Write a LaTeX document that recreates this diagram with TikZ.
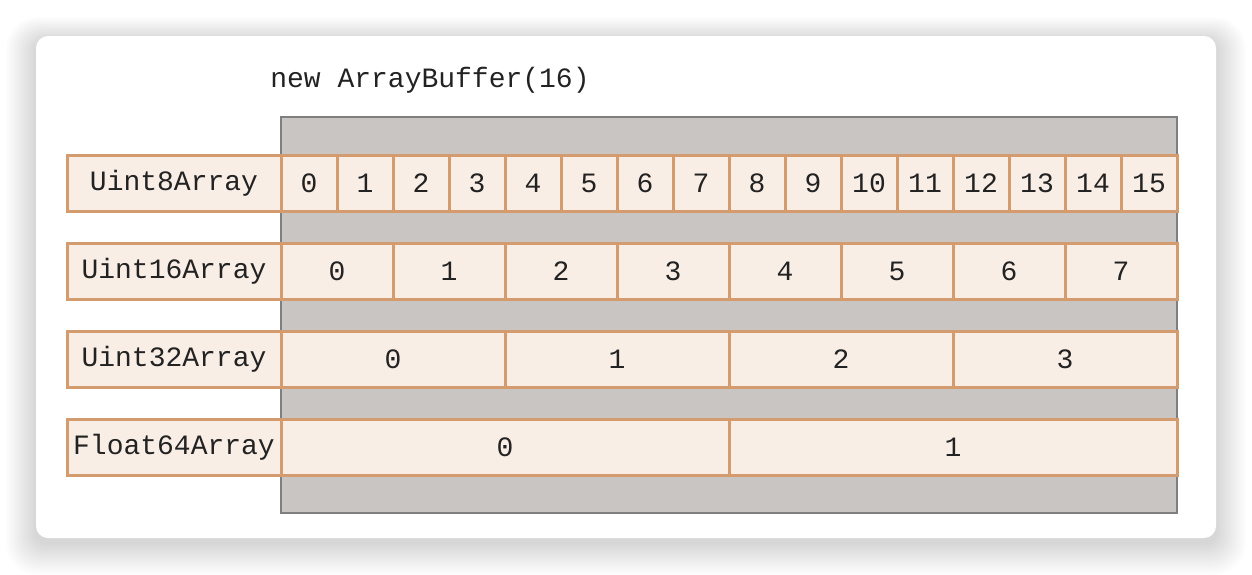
\documentclass[tikz,border=0pt]{standalone}
\usepackage{fontspec}
\setmonofont{Liberation Mono}
\definecolor{cellfill}{HTML}{F9EEE6}
\definecolor{celldraw}{HTML}{D49B6E}
\definecolor{buffill}{HTML}{C9C5C2}
\definecolor{bufdraw}{HTML}{7F7F7F}
\definecolor{ink}{HTML}{222222}
\tikzset{
  cell/.style={draw=celldraw, fill=cellfill, line width=3pt, minimum height=56pt, inner sep=0pt, font=\ttfamily\fontsize{28}{28}\selectfont, text=ink},
  title/.style={inner sep=0pt, font=\ttfamily\fontsize{28}{28}\selectfont, text=ink}
}
\begin{document}
\begin{tikzpicture}[x=1pt,y=-1pt]
\useasboundingbox (0,0) rectangle (1252,574);
\fill[white] (0,0) rectangle (1252,574);
% shadow
\foreach \i in {1,...,20}{
  \fill[black, opacity=0.009, rounded corners=12+\i] (36-1.5*\i,36-1.2*\i+5) rectangle (1216+1.5*\i,538+1.6*\i+5);
}
% card
\fill[white, rounded corners=12pt] (36,36) rectangle (1216,538);
% title
\node[title] (title) at (430,80) {new ArrayBuffer(16)};
% buffer
\draw[bufdraw, fill=buffill, line width=2pt] (281,117) rectangle (1177,513);
\node[inner sep=0pt, minimum width=896pt, minimum height=396pt] (buf) at (729,315) {};
% Uint8
\node[cell, minimum width=214pt] (l8) at (174,183.5) {Uint8Array};
\foreach \k in {0,...,15}{
  \node[cell, minimum width=56pt] (u8c\k) at (309+56*\k,183.5) {\k};
}
% Uint16
\node[cell, minimum width=214pt] (l16) at (174,271.5) {Uint16Array};
\foreach \k in {0,...,7}{
  \node[cell, minimum width=112pt] (u16c\k) at (337+112*\k,271.5) {\k};
}
% Uint32
\node[cell, minimum width=214pt] (l32) at (174,359.5) {Uint32Array};
\foreach \k in {0,...,3}{
  \node[cell, minimum width=224pt] (u32c\k) at (393+224*\k,359.5) {\k};
}
% Float64
\node[cell, minimum width=214pt] (l64) at (174,447.5) {Float64Array};
\foreach \k in {0,...,1}{
  \node[cell, minimum width=448pt] (f64c\k) at (505+448*\k,447.5) {\k};
}
\end{tikzpicture}
\end{document}
